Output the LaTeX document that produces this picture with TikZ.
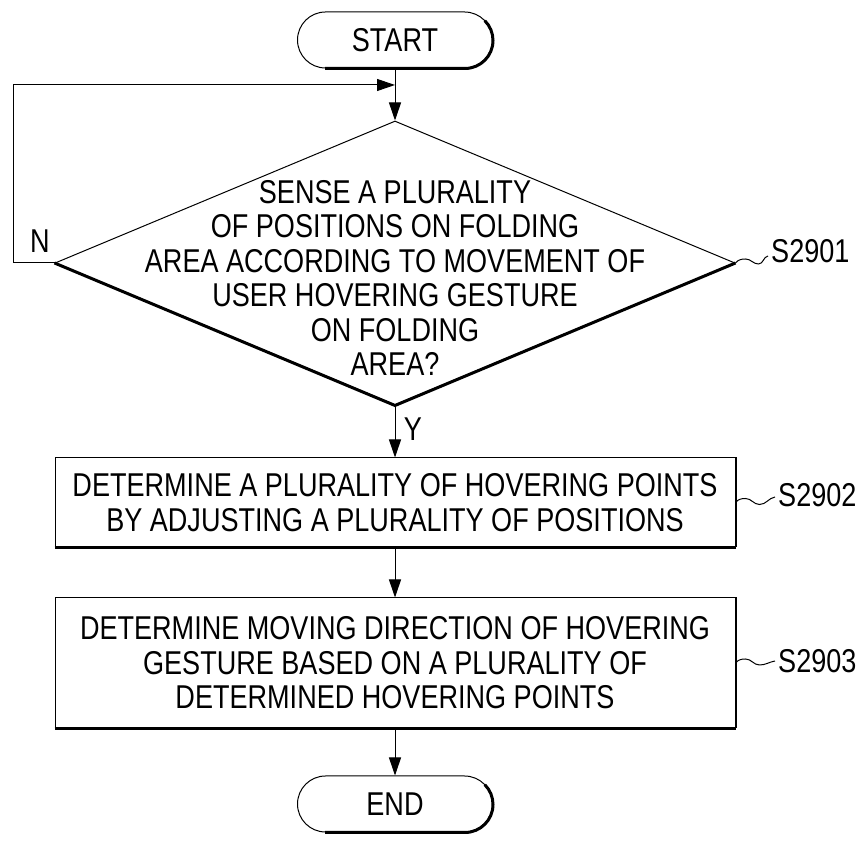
\documentclass[tikz,border=0pt]{standalone}
\usepackage{fontspec}
\setmainfont{Liberation Sans}[FakeStretch=0.82]
\usetikzlibrary{arrows.meta,shapes.geometric}
\begin{document}
\begin{tikzpicture}[x=1pt,y=1pt,
  base/.style={font=\fontsize{33}{34.5}\selectfont},
  terminal/.style={base, draw, line width=1pt, rounded corners=28pt, minimum width=195pt, minimum height=56pt, inner sep=0pt},
  process/.style={base, draw, line width=1pt, minimum width=680pt, align=center, inner sep=0pt},
  decision/.style={draw, diamond, line width=1pt, minimum width=680pt, minimum height=284pt, inner sep=0pt, aspect=2.394},
  shadowline/.style={line width=3pt},
  conn/.style={line width=1pt, -{Triangle[length=18pt,width=12pt]}},
  wave/.style={line width=1pt},
  lbl/.style={base, anchor=west, inner sep=0pt},
  branchlbl/.style={base, inner sep=0pt}
]
\useasboundingbox (0,0) rectangle (868,842);

% nodes
\node[terminal] (start) at (395,802) {START};
\node[decision] (d) at (395,579) {};
\node[base, align=center, inner sep=0pt] (dt) at (395,564) {SENSE A PLURALITY\\OF POSITIONS ON FOLDING\\AREA ACCORDING TO MOVEMENT OF\\USER HOVERING GESTURE\\ON FOLDING\\AREA?};
\node[process, minimum height=89pt] (b1) at (395,339.5) {DETERMINE A PLURALITY OF HOVERING POINTS\\BY ADJUSTING A PLURALITY OF POSITIONS};
\node[process, minimum height=130pt] (b2) at (395,179) {DETERMINE MOVING DIRECTION OF HOVERING\\GESTURE BASED ON A PLURALITY OF\\DETERMINED HOVERING POINTS};
\node[terminal] (end) at (395,38) {END};

% shadow edges
\draw[shadowline] ([xshift=28pt]start.south west) -- ([xshift=-28pt]start.south east) arc[start angle=-90, end angle=45, radius=28pt];
\draw[shadowline] ([xshift=28pt]end.south west) -- ([xshift=-28pt]end.south east) arc[start angle=-90, end angle=45, radius=28pt];
\draw[shadowline] (d.west) -- (d.south) -- (d.east);
\draw[shadowline] (b1.south west) -- (b1.south east);
\draw[line width=2pt] (b1.south east) -- (b1.north east);
\draw[shadowline] (b2.south west) -- (b2.south east);
\draw[line width=2pt] (b2.south east) -- (b2.north east);

% connectors
\coordinate (j) at (395,757);
\coordinate (lp1) at (13,579);
\coordinate (lp2) at (13,757);
\draw[line width=1pt] (start.south) -- (j);
\draw[conn] (j) -- (d.north);
\draw[conn] (d.west) -- (lp1) -- (lp2) -- (j);
\draw[conn] (d.south) -- (b1.north);
\draw[conn] (b1.south) -- (b2.north);
\draw[conn] (b2.south) -- (end.north);

% branch labels
\node[branchlbl] (n) at (40,601) {N};
\node[branchlbl] (y) at (413,413) {Y};

% step labels
\coordinate (w1) at (768,586);
\coordinate (w2) at (775,345);
\coordinate (w3) at (775,181);
\draw[wave] (d.east) to[out=50,in=180] ++(10,4) to[out=0,in=180] ++(13,-5) to[out=0,in=190] (w1);
\draw[wave] (b1.east) to[out=50,in=180] ++(10,4) to[out=0,in=180] ++(14,-6) to[out=0,in=190] (w2);
\draw[wave] (b2.east) to[out=50,in=180] ++(10,4) to[out=0,in=180] ++(14,-6) to[out=0,in=190] (w3);
\node[lbl] (s1) at (771,591) {S2901};
\node[lbl] (s2) at (778,347) {S2902};
\node[lbl] (s3) at (778,181) {S2903};
\end{tikzpicture}
\end{document}
